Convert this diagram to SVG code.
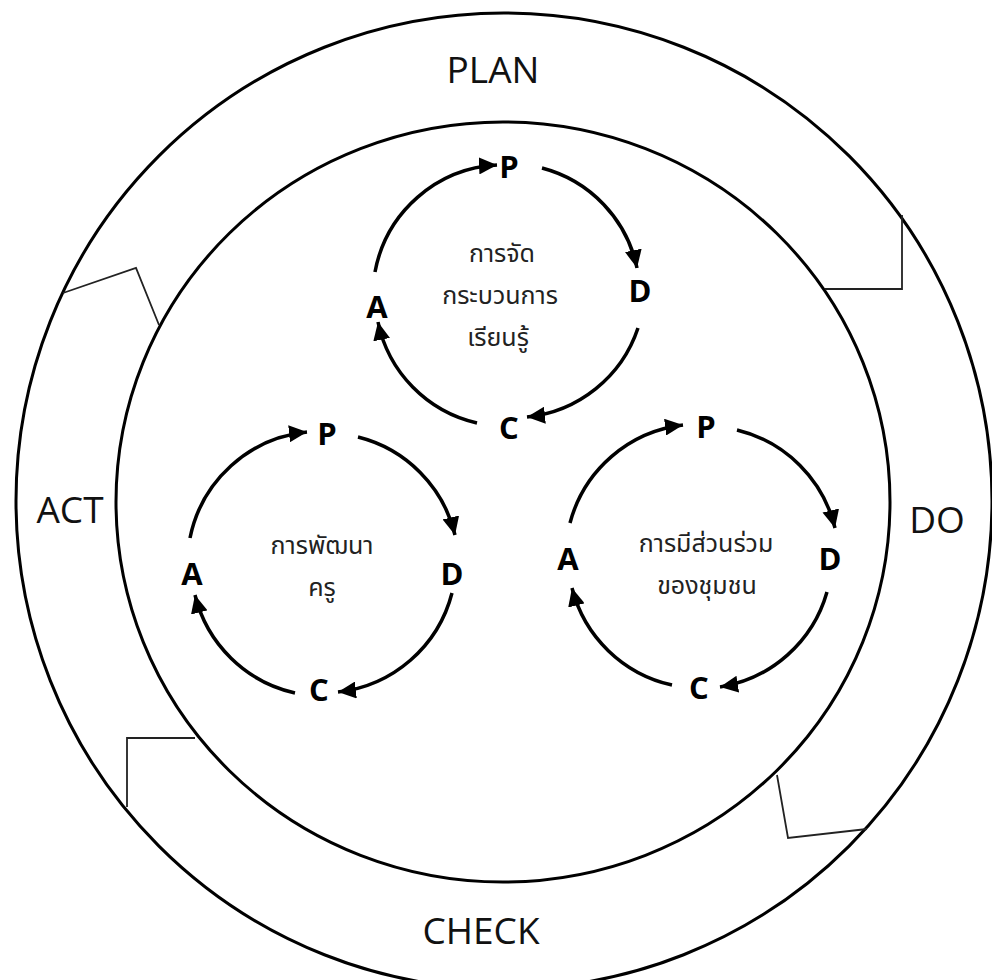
<svg xmlns="http://www.w3.org/2000/svg" width="992" height="980" viewBox="0 0 992 980">
<defs>
<style>
.ring{fill:none;stroke:#000;stroke-width:3}
.notch{fill:none;stroke:#222;stroke-width:1.8;stroke-linejoin:miter}
.lbl{font-family:"Open Sans","Noto Sans","DejaVu Sans",sans-serif;font-size:37px;fill:#111;text-anchor:middle}
.ltr{font-family:"Open Sans","Noto Sans","DejaVu Sans",sans-serif;font-size:31px;font-weight:700;fill:#000;text-anchor:middle}
.th{font-family:"Noto Sans Thai","Tahoma","Noto Sans","DejaVu Sans",sans-serif;font-size:25px;fill:#222;text-anchor:middle}
.arc{fill:none;stroke:#000;stroke-width:3.5;marker-end:url(#ah)}
</style>
<marker id="ah" markerUnits="userSpaceOnUse" markerWidth="19" markerHeight="17" refX="18" refY="8.5" orient="auto">
<path d="M0,0 L18,8.5 L0,17 z" fill="#000"/>
</marker>
</defs>
<rect width="992" height="980" fill="#fff"/>
<g id="outer-ring">
<circle class="ring" cx="504" cy="501" r="488"/>
</g>
<g id="inner-ring">
<ellipse class="ring" cx="503" cy="502" rx="387" ry="380"/>
</g>
<g id="notches">
<polyline class="notch" points="63,293 136,268 159,325"/>
<polyline class="notch" points="825,289 902,289 902,215"/>
<polyline class="notch" points="127,807 127,738 195,738"/>
<polyline class="notch" points="777,775 788,838 867,829"/>
</g>
<g id="label-plan"><text class="lbl" x="493" y="83">PLAN</text></g>
<g id="label-do"><text class="lbl" x="937" y="533">DO</text></g>
<g id="label-check"><text class="lbl" x="481" y="944">CHECK</text></g>
<g id="label-act"><text class="lbl" x="70" y="523">ACT</text></g>

<g id="cycle-top">
<text class="th" x="502" y="262">การจัด</text>
<text class="th" x="500" y="304">กระบวนการ</text>
<text class="th" x="498" y="346">เรียนรู้</text>
<text class="ltr" x="509" y="178">P</text>
<text class="ltr" x="640" y="302">D</text>
<text class="ltr" x="509" y="439">C</text>
<text class="ltr" x="377" y="318">A</text>
</g>
<g id="cycle-left">
<text class="th" x="322" y="554">การพัฒนา</text>
<text class="th" x="322" y="596">ครู</text>
<text class="ltr" x="327" y="445">P</text>
<text class="ltr" x="452" y="585">D</text>
<text class="ltr" x="319" y="701">C</text>
<text class="ltr" x="192" y="585">A</text>
</g>
<g id="cycle-right">
<text class="th" x="706" y="552">การมีส่วนร่วม</text>
<text class="th" x="707" y="594">ของชุมชน</text>
<text class="ltr" x="706" y="438">P</text>
<text class="ltr" x="830" y="570">D</text>
<text class="ltr" x="699" y="699">C</text>
<text class="ltr" x="568" y="570">A</text>
</g>

<g id="connectors">
<path class="arc" d="M375,272 A131,131 0 0 1 497,165"/>
<path class="arc" d="M542,168 A131,131 0 0 1 637,268"/>
<path class="arc" d="M638,328 A131,131 0 0 1 527,417"/>
<path class="arc" d="M477,423 A131,131 0 0 1 378,322"/>

<path class="arc" d="M190,538 A133,133 0 0 1 307,432"/>
<path class="arc" d="M358,437 A133,133 0 0 1 455,535"/>
<path class="arc" d="M452,593 A133,133 0 0 1 338,692"/>
<path class="arc" d="M295,693 A133,133 0 0 1 195,595"/>

<path class="arc" d="M570,523 A133,133 0 0 1 683,425"/>
<path class="arc" d="M737,430 A133,133 0 0 1 835,528"/>
<path class="arc" d="M827,592 A133,133 0 0 1 720,687"/>
<path class="arc" d="M672,685 A133,133 0 0 1 572,588"/>
</g>
</svg>
